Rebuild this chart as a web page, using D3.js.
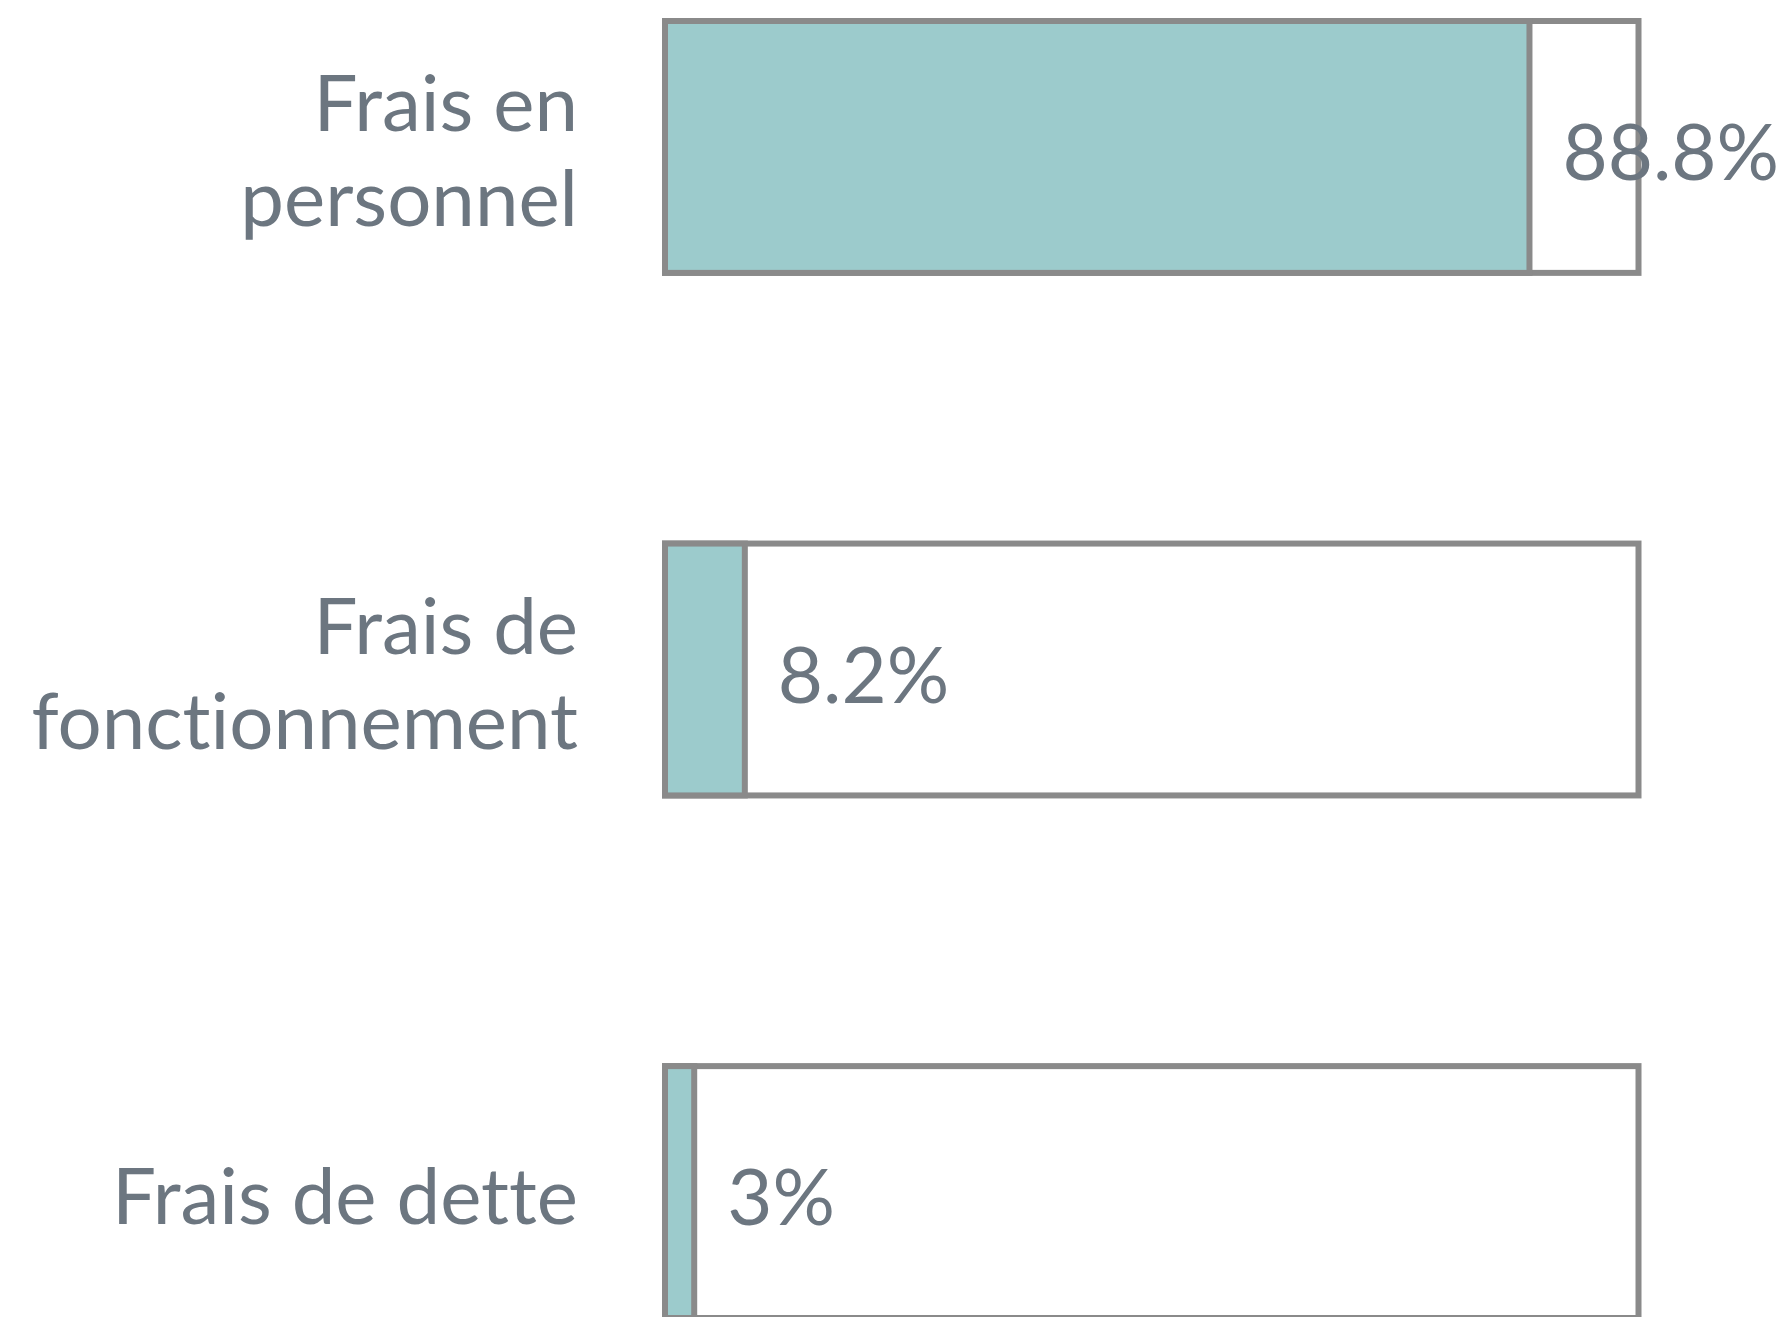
<!DOCTYPE html>
<html>
<head>
<meta charset="utf-8">
<script src="https://cdn.jsdelivr.net/npm/d3@7"></script>
<style>
  body { margin: 0; background: #fff; }
  svg { display: block; }
  text { font-variant-ligatures: none; font-feature-settings: "liga" 0, "clig" 0; }
</style>
</head>
<body>
<svg class="chart" width="1783" height="1317"></svg>
<script>
// data
var categories = ["Frais en personnel", "Frais de fonctionnement", "Frais de dette"];
var labelLines = [["Frais en", "personnel"], ["Frais de", "fonctionnement"], ["Frais de dette"]];
var values = [88.8, 8.2, 3];
var valueLabels = ["88.8%", "8.2%", "3%"];

var svg = d3.select(".chart");
var textColor = "#6c7680", strokeColor = "#8a8a8a", fillColor = "#9ccbcc";
var fontSize = 78, lineHeight = 95;

var x = d3.scaleLinear().domain([0, 100]).range([665, 1638.5]);
var y = d3.scaleBand().domain(categories).range([21, 1318]).paddingInner(0.518).paddingOuter(0);

var rows = categories.map(function(c, i) {
  return {cat: c, lines: labelLines[i], value: values[i], label: valueLabels[i]};
});

var g = svg.append("g");

// the 100% frame
g.selectAll(".frame").data(rows).enter().append("rect")
  .attr("class", "frame")
  .attr("x", x(0))
  .attr("y", function(d) { return y(d.cat); })
  .attr("width", x(100) - x(0))
  .attr("height", y.bandwidth())
  .attr("fill", "#fff")
  .attr("stroke", strokeColor)
  .attr("stroke-width", 6);

// filled part
g.selectAll(".bar").data(rows).enter().append("rect")
  .attr("class", "bar")
  .attr("x", x(0))
  .attr("y", function(d) { return y(d.cat); })
  .attr("width", function(d) { return x(d.value) - x(0); })
  .attr("height", y.bandwidth())
  .attr("fill", fillColor)
  .attr("stroke", strokeColor)
  .attr("stroke-width", 6);

// value labels
g.selectAll(".val").data(rows).enter().append("text")
  .attr("class", "val")
  .attr("x", function(d) { return x(d.value) + 33; })
  .attr("y", function(d) { return y(d.cat) + y.bandwidth() / 2 + 33; })
  .attr("font-family", "Lato, 'Open Sans', sans-serif")
  .attr("font-size", fontSize)
  .attr("fill", textColor)
  .text(function(d) { return d.label; });

// category labels, right aligned, possibly on two lines
var cat = g.selectAll(".cat").data(rows).enter().append("text")
  .attr("class", "cat")
  .attr("text-anchor", "end")
  .attr("font-family", "Lato, 'Open Sans', sans-serif")
  .attr("font-size", fontSize)
  .attr("fill", textColor);

cat.each(function(d) {
  var first = y(d.cat) + y.bandwidth() / 2 + 32 - (d.lines.length - 1) * lineHeight / 2;
  d3.select(this).selectAll("tspan").data(d.lines).enter().append("tspan")
    .attr("x", 578)
    .attr("y", function(l, i) { return first + i * lineHeight; })
    .text(function(l) { return l; });
});
</script>
</body>
</html>
